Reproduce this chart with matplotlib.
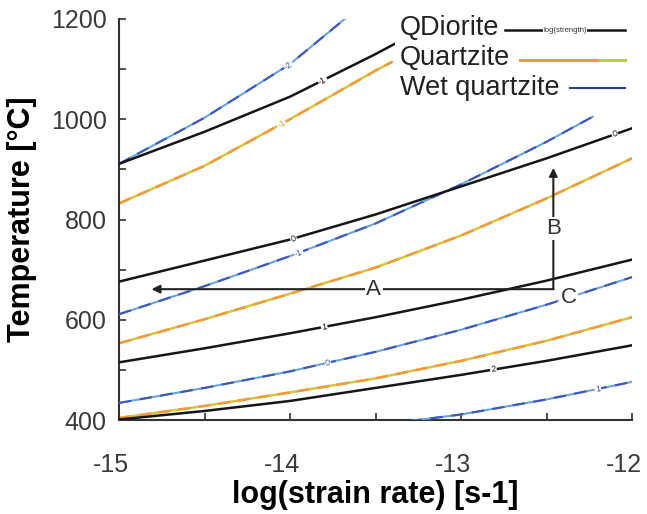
import matplotlib
matplotlib.use('Agg')
import matplotlib.pyplot as plt
from matplotlib.lines import Line2D
from matplotlib.patches import Rectangle
from matplotlib.transforms import ScaledTranslation
import numpy as np

plt.rcParams['font.family'] = ['Liberation Sans', 'DejaVu Sans']

rate = [-15, -14.5, -14, -13.5, -13, -12.5, -12]

# QDiorite, log(strength) contours, temperature in degC
qd_2 = [401, 418, 438, 464, 490, 518, 549]
qd_1 = [515, 543, 573, 605, 640, 678, 720]
qd_0 = [676, 718, 760, 810, 866, 922, 982]
qd_m1_x = [-15, -14.5, -14, -13.5, -13.39]
qd_m1 = [911, 975, 1045, 1130, 1150]

# Quartzite
qz_1 = [404, 428, 455, 483, 518, 558, 605]
qz_0 = [553, 601, 652, 704, 768, 842, 922]
qz_m1_x = [-15, -14.5, -14, -13.5, -13.4]
qz_m1 = [832, 907, 1000, 1097, 1115]

# Wet quartzite
wq_1_x = [-13.3, -13, -12.5, -12]
wq_1 = [398, 411, 441, 476]
wq_0 = [434, 464, 497, 536, 580, 630, 685]
wq_m1_x = [-15, -14.5, -14, -13.5, -13, -12.5, -12.23]
wq_m1 = [611, 667, 727, 792, 870, 955, 1005]
wq_m2_x = [-15, -14.5, -14, -13.68]
wq_m2 = [911, 1003, 1110, 1200]

# where the contour labels sit (log strain rate)
qd_lab = {'2': [-12.81], '1': [-13.80], '0': [-13.98, -12.10], '-1': [-13.81]}
qz_lab = {'-1': [-14.05]}
wq_lab = {'1': [-12.20], '0': [-13.78], '-1': [-13.95], '-2': [-14.01]}

# path A -> C -> B
path_T = 661
path_x = [-12.46, -14.81]
path_B = [661, 903]

black = '#161616'
orange = '#f29a3c'
yellow = '#d2c83a'
blue = '#3f55c0'
lightblue = '#66a6dc'

fig = plt.figure(figsize=(6.47, 5.14), dpi=100)
ax = fig.add_axes([119 / 647, 1 - 420 / 514, 513 / 647, 401 / 514])
ax.set_xlim(-15, -12)
ax.set_ylim(400, 1200)


def put_labels(x, T, where, txt, color):
    for at in where:
        y = np.interp(at, x, T)
        p1 = ax.transData.transform((at - 0.05, np.interp(at - 0.05, x, T)))
        p2 = ax.transData.transform((at + 0.05, np.interp(at + 0.05, x, T)))
        ang = np.degrees(np.arctan2(p2[1] - p1[1], p2[0] - p1[0]))
        ax.text(at, y, txt.replace('-', '\u2010'), rotation=ang, rotation_mode='anchor',
                ha='center', va='center', fontsize=6.5, color=color, zorder=6,
                bbox=dict(fc='white', ec='none', pad=0.6))


qd_lines = {'2': (rate, qd_2), '1': (rate, qd_1), '0': (rate, qd_0), '-1': (qd_m1_x, qd_m1)}
qz_lines = {'1': (rate, qz_1), '0': (rate, qz_0), '-1': (qz_m1_x, qz_m1)}
wq_lines = {'1': (wq_1_x, wq_1), '0': (rate, wq_0), '-1': (wq_m1_x, wq_m1), '-2': (wq_m2_x, wq_m2)}

for k, (x, T) in qz_lines.items():
    ax.plot(x, T, color=yellow, lw=1.8, zorder=2, solid_capstyle='butt')
    ax.plot(x, T, color=orange, lw=1.8, zorder=2, dashes=(5, 3))
    put_labels(x, T, qz_lab.get(k, []), k, '#c9a92a')
for k, (x, T) in wq_lines.items():
    ax.plot(x, T, color=lightblue, lw=1.5, zorder=3)
    ax.plot(x, T, color=blue, lw=1.5, zorder=3, dashes=(6, 4))
    put_labels(x, T, wq_lab.get(k, []), k, blue)
for k, (x, T) in qd_lines.items():
    ax.plot(x, T, color=black, lw=1.8, zorder=4)
    put_labels(x, T, qd_lab.get(k, []), k, black)

# A-C-B path
arr = dict(arrowstyle='-|>', color='#222222', lw=1.5, mutation_scale=12, shrinkA=0, shrinkB=0)
ax.annotate('', xy=(path_x[1], path_T), xytext=(path_x[0], path_T), arrowprops=arr, zorder=7)
ax.annotate('', xy=(path_x[0], path_B[1]), xytext=(path_x[0], path_B[0]), arrowprops=arr, zorder=7)
box = dict(fc='white', ec='none', pad=1)
ax.text(-13.51, path_T, 'A', fontsize=16, color='#333333', ha='center', va='center', bbox=box, zorder=8)
ax.text(path_x[0], 782, 'B', fontsize=16, color='#333333', ha='center', va='center', bbox=box, zorder=8)
ax.text(-12.37, 645, 'C', fontsize=16, color='#333333', ha='center', va='center', bbox=box, zorder=8)

# axes styling
for s in ['top', 'right']:
    ax.spines[s].set_visible(False)
for s in ['left', 'bottom']:
    ax.spines[s].set_color('#333333')
    ax.spines[s].set_linewidth(1.5)
ax.set_xticks([-15, -14, -13, -12])
ax.set_xticks(np.arange(-15, -11.9, 0.5), minor=True)
ax.set_yticks([400, 600, 800, 1000, 1200])
ax.set_yticks(np.arange(400, 1201, 100), minor=True)
ax.set_xticklabels(['-15', '-14', '-13', '-12'])
ax.tick_params(which='both', direction='in', length=5, width=1.2, color='#333333')
ax.tick_params(axis='x', pad=24, labelsize=18, labelcolor='#3a3a3a')
ax.tick_params(axis='y', pad=9, labelsize=18, labelcolor='#3a3a3a')
shift = ScaledTranslation(-8 / 100, 0, fig.dpi_scale_trans)
for lab in ax.get_xticklabels():
    lab.set_transform(lab.get_transform() + shift)
ax.set_xlabel('log(strain rate) [s-1]', fontsize=22, fontweight='bold', labelpad=2)
ax.set_ylabel('Temperature [°C]', fontsize=22, fontweight='bold', labelpad=10)

# legend, drawn by hand in figure coordinates
fig.add_artist(Rectangle((395 / 647, 1 - 100 / 514), 245 / 647, 88 / 514,
                         transform=fig.transFigure, fc='white', ec='none', zorder=9))
leg_y = [28, 58, 88]
leg_txt = ['QDiorite', 'Quartzite', 'Wet quartzite']
for y, t in zip(leg_y, leg_txt):
    fig.text(400 / 647, 1 - y / 514, t, fontsize=19.5, color='#222222', ha='left', va='center', zorder=10)
fig.add_artist(Line2D([505 / 647, 625 / 647], [1 - 30 / 514] * 2, transform=fig.transFigure,
                      color=black, lw=1.8, zorder=10))
fig.text(565 / 647, 1 - 30 / 514, 'log(strength)', fontsize=5.5, color='#333333', ha='center',
         va='center', zorder=11, bbox=dict(fc='white', ec='none', pad=0.5))
fig.add_artist(Line2D([520 / 647, 600 / 647], [1 - 60 / 514] * 2, transform=fig.transFigure,
                      color=orange, lw=2.2, zorder=10))
fig.add_artist(Line2D([600 / 647, 625 / 647], [1 - 60 / 514] * 2, transform=fig.transFigure,
                      color='#b8d040', lw=2.2, zorder=10))
fig.add_artist(Line2D([570 / 647, 625 / 647], [1 - 88 / 514] * 2, transform=fig.transFigure,
                      color='#2c3f8c', lw=1.5, zorder=10))

fig.savefig('out.png', dpi=100)
